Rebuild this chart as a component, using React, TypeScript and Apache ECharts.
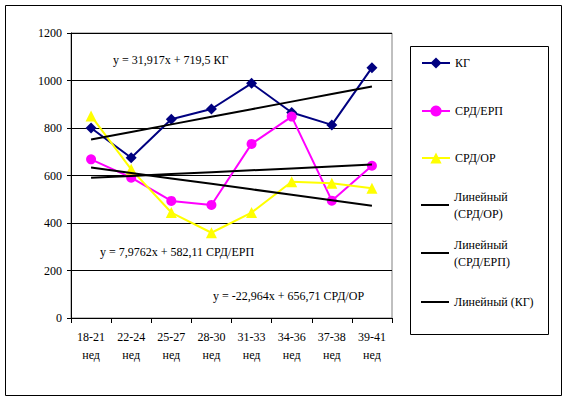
import { useEffect, useRef } from 'react';
import * as echarts from 'echarts';

const categories = ['18-21\nнед', '22-24\nнед', '25-27\nнед', '28-30\nнед', '31-33\nнед', '34-36\nнед', '37-38\nнед', '39-41\nнед'];
const kgValues = [800, 675, 837, 880, 988, 865, 813, 1054];
const erpValues = [668, 591, 493, 476, 733, 848, 494, 641];
const orValues = [851, 626, 444, 359, 444, 574, 567, 546];

// trend line equations shown on the chart: y = slope * x + intercept
const trendNames = ['Линейный (СРД/ОР)', 'Линейный (СРД/ЕРП)', 'Линейный (КГ)'];
const trendSlopes = [-22.964, 7.9762, 31.917];
const trendIntercepts = [656.71, 582.11, 719.5];
const trendLabels = ['y = -22,964x + 656,71 СРД/ОР', 'y = 7,9762x + 582,11 СРД/ЕРП', 'y = 31,917x + 719,5 КГ'];

const yTicks = { min: 0, max: 1200, interval: 200 };

const FONT = 'Liberation Serif, Times New Roman, serif';

export default function App() {
  const ref = useRef<HTMLDivElement>(null);
  useEffect(() => {
    document.body.style.margin = '0';
    const chart = echarts.init(ref.current!, null, { renderer: 'svg' });

    const trendData = (i: number) =>
      categories.map((_, k) => +(trendSlopes[i] * (k + 1) + trendIntercepts[i]).toFixed(2));

    const dataSeries = [
      { name: 'КГ', data: kgValues, color: '#000080', symbol: 'diamond', symbolSize: 11 },
      { name: 'СРД/ЕРП', data: erpValues, color: '#FF00FF', symbol: 'circle', symbolSize: 10 },
      { name: 'СРД/ОР', data: orValues, color: '#FFFF00', symbol: 'triangle', symbolSize: 11 },
    ].map((s) => ({
      type: 'line',
      name: s.name,
      data: s.data,
      symbol: s.symbol,
      symbolSize: s.symbolSize,
      itemStyle: { color: s.color },
      lineStyle: { color: s.color, width: 2 },
      z: 2,
    }));

    const trendSeries = trendNames.map((n, i) => ({
      type: 'line',
      name: n,
      data: trendData(i),
      symbol: 'none',
      itemStyle: { color: '#000000' },
      lineStyle: { color: '#000000', width: 2 },
      z: 3,
    }));

    const legendNames = ['КГ', 'СРД/ЕРП', 'СРД/ОР', ...trendNames];
    const legendCenters = [63, 111, 158, 205, 253, 302];
    const legends = legendNames.map((n, i) => {
      const twoLine = n === trendNames[0] || n === trendNames[1];
      const isTrend = trendNames.includes(n);
      return {
        data: [n],
        left: 421,
        top: twoLine ? legendCenters[i] - 25.5 : legendCenters[i] - 7,
        orient: 'vertical',
        itemWidth: 28,
        itemHeight: isTrend ? 2 : 14,
        icon: isTrend ? 'rect' : undefined,
        padding: 0,
        selectedMode: false,
        formatter: (name: string) => (twoLine ? name.replace(' ', '\n') : name),
        textStyle: {
          fontFamily: FONT,
          fontSize: 12,
          color: '#000',
          lineHeight: twoLine ? 17 : 14,
          padding: twoLine ? [17, 0, 0, 0] : 0,
        },
      };
    });

    const labelPos = [
      { x: 213, y: 296 },
      { x: 100, y: 252 },
      { x: 113, y: 60 },
    ];

    chart.setOption({
      animation: false,
      backgroundColor: '#ffffff',
      textStyle: { fontFamily: FONT },
      grid: {
        left: 71,
        top: 33,
        right: 176,
        bottom: 83,
        show: true,
        borderColor: '#808080',
        borderWidth: 1,
        backgroundColor: 'transparent',
      },
      legend: legends,
      xAxis: {
        type: 'category',
        data: categories,
        boundaryGap: true,
        axisLine: { lineStyle: { color: '#000', width: 1 } },
        axisTick: { show: true, length: 5, lineStyle: { color: '#000' } },
        axisLabel: {
          fontFamily: FONT,
          fontSize: 12,
          color: '#000',
          lineHeight: 18,
          margin: 10,
          interval: 0,
        },
      },
      yAxis: {
        type: 'value',
        min: yTicks.min,
        max: yTicks.max,
        interval: yTicks.interval,
        axisLine: { show: true, lineStyle: { color: '#000', width: 1 } },
        axisTick: { show: true, length: 4, lineStyle: { color: '#000' } },
        splitLine: { show: true, lineStyle: { color: '#000', width: 1 } },
        axisLabel: {
          fontFamily: FONT,
          fontSize: 12,
          color: '#000',
          margin: 9,
          formatter: (v: number) => String(v),
        },
      },
      series: [...dataSeries, ...trendSeries],
      graphic: [
        {
          type: 'rect',
          shape: { x: 5.5, y: 5.5, width: 556, height: 390 },
          style: { fill: 'none', stroke: '#000', lineWidth: 1 },
          silent: true,
          z: -1,
        },
        {
          type: 'rect',
          shape: { x: 410.5, y: 46.5, width: 138, height: 288 },
          style: { fill: 'none', stroke: '#000', lineWidth: 1 },
          silent: true,
        },
        ...trendLabels.map((t, i) => ({
          type: 'text',
          x: labelPos[i].x,
          y: labelPos[i].y,
          style: {
            text: t,
            fontFamily: FONT,
            fontSize: 12,
            fill: '#000',
            verticalAlign: 'middle',
            align: 'left',
          },
          silent: true,
          z: 10,
        })),
      ],
    });
    return () => chart.dispose();
  }, []);
  return <div ref={ref} style={{ width: 568, height: 401 }} />;
}
